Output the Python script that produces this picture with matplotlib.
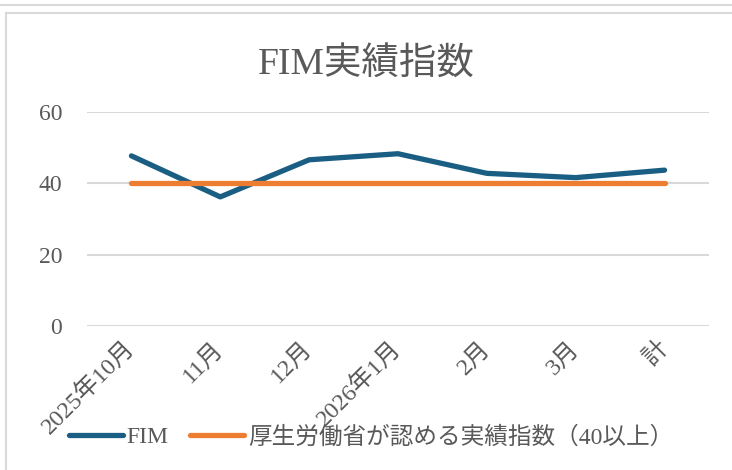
import matplotlib
matplotlib.use("Agg")
import matplotlib.pyplot as plt
from matplotlib.lines import Line2D

plt.rcParams['font.family'] = ['Liberation Serif', 'Noto Sans CJK JP', 'DejaVu Sans']

categories = ["2025年10月", "11月", "12月", "2026年1月", "2月", "3月", "計"]
fim_values = [47.7, 36.2, 46.6, 48.3, 42.8, 41.6, 43.7]
standard_values = [40, 40, 40, 40, 40, 40, 40]
series_names = ["FIM", "厚生労働省が認める実績指数（40以上）"]
yticks = [0, 20, 40, 60]
title = "FIM実績指数"

text_color = "#595959"
grid_color = "#d9d9d9"
blue = "#1b5e84"
orange = "#ed7d31"

fig = plt.figure(figsize=(7.32, 4.70), dpi=100)
ax = fig.add_axes([87/732, 1-326/470, (709-87)/732, (326-112)/470])

x = list(range(len(categories)))
ax.plot(x, fim_values, color=blue, lw=3.8, solid_capstyle='round', solid_joinstyle='round', zorder=3)
ax.plot(x, standard_values, color=orange, lw=3.8, solid_capstyle='round', zorder=4)

ax.set_xlim(-0.5, len(categories) - 0.5)
ax.set_ylim(0, 60)
ax.set_yticks(yticks)
ax.set_yticklabels([str(v) for v in yticks], fontsize=17, color=text_color)
ax.yaxis.grid(True, color=grid_color, lw=1.5)
ax.set_axisbelow(True)
for s in ax.spines.values():
    s.set_visible(False)
ax.tick_params(axis='y', length=0, pad=18)
ax.tick_params(axis='x', length=0, pad=14)
ax.set_xticks(x)
ax.set_xticklabels(categories, rotation=45, ha='right', va='center', rotation_mode='anchor',
                   fontsize=17.5, color=text_color)

fig.text(0.5, 1-65/470, title, ha='center', va='center', fontsize=27, color=text_color)

handles = [Line2D([], [], color=blue, lw=3.8, solid_capstyle='round'),
           Line2D([], [], color=orange, lw=3.8, solid_capstyle='round')]
leg = fig.legend(handles, series_names, loc='center', bbox_to_anchor=(371/732, 1-437/470),
                 ncol=2, frameon=False, fontsize=17, handlelength=2.3, handletextpad=0.15,
                 columnspacing=0.9, labelcolor=text_color)

# frame lines
fig.add_artist(Line2D([0, 1], [1-5/470, 1-5/470], color=grid_color, lw=1.5, transform=fig.transFigure))
fig.add_artist(Line2D([6/732, 1], [1-13/470, 1-13/470], color=grid_color, lw=1.5, transform=fig.transFigure))
fig.add_artist(Line2D([6/732, 6/732], [0, 1-13/470], color=grid_color, lw=1.5, transform=fig.transFigure))

fig.savefig("out.png", dpi=100)
